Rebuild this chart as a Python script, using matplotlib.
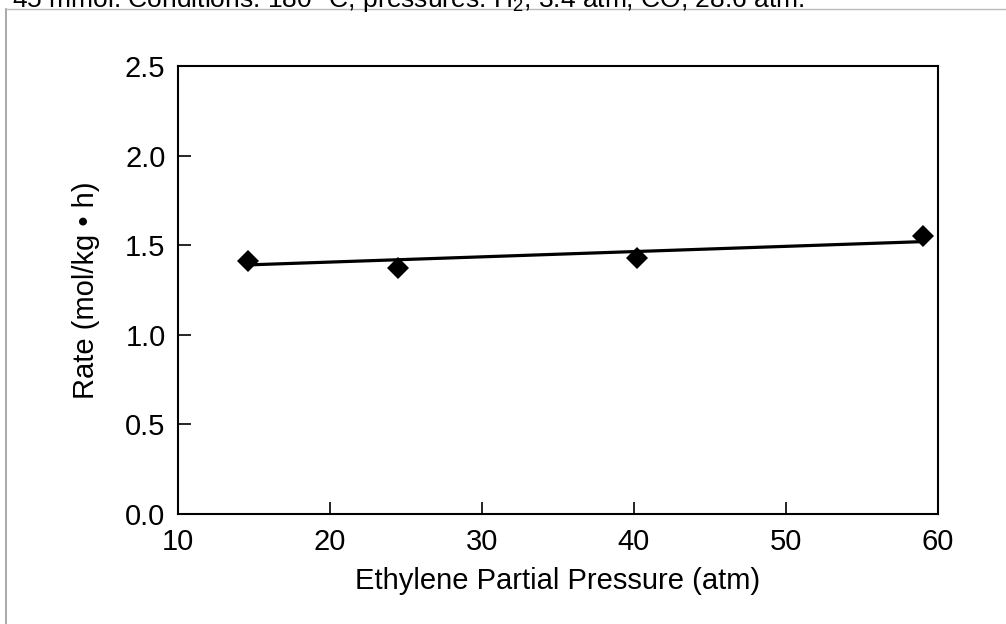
import numpy as np
import matplotlib
matplotlib.use('Agg')
import matplotlib.pyplot as plt
from matplotlib.lines import Line2D

plt.rcParams['font.family'] = ['Liberation Sans', 'DejaVu Sans']
plt.rcParams['mathtext.fontset'] = 'custom'
plt.rcParams['mathtext.rm'] = 'Liberation Sans'
plt.rcParams['mathtext.it'] = 'Liberation Sans'

pressure = [14.6, 24.5, 40.2, 59.0]
rate = [1.41, 1.37, 1.43, 1.55]

# straight line drawn through the data
fit_x = [14.6, 59.0]
fit_y = [1.39, 1.52]

x_ticks = [10, 20, 30, 40, 50, 60]
y_ticks = [0.0, 0.5, 1.0, 1.5, 2.0, 2.5]

header = "45 mmol. Conditions: 180 \u00b0C, pressures: H$_2$, 3.4 atm; CO, 28.6 atm."

W, H = 1006, 624
fig = plt.figure(figsize=(W / 100, H / 100), dpi=100)

# gray frame of the cropped figure box (only top and left edges show)
fig.add_artist(Line2D([6 / W, 6 / W], [0, 1 - 9 / H], transform=fig.transFigure,
                      color='#999999', lw=1.2))
fig.add_artist(Line2D([6 / W, 1], [1 - 9 / H, 1 - 9 / H], transform=fig.transFigure,
                      color='#bbbbbb', lw=1.0))

# caption text from above, cut off by the crop
fig.text(12 / W, 1 - 7 / H, header, fontsize=19, va='baseline', ha='left')

left, right, top, bottom = 178, 938, 66, 514
ax = fig.add_axes([left / W, 1 - bottom / H, (right - left) / W, (bottom - top) / H])

ax.plot(fit_x, fit_y, color='black', lw=2.3, solid_capstyle='butt')
ax.plot(pressure, rate, linestyle='none', marker='D', markersize=11,
        color='black', markeredgewidth=0)

ax.set_xlim(10, 60)
ax.set_ylim(0, 2.5)
ax.set_xticks(x_ticks)
ax.set_yticks(y_ticks)
ax.set_yticklabels(['%.1f' % v for v in y_ticks])

ax.tick_params(direction='in', length=9, width=1.2, labelsize=21, colors='black')
ax.tick_params(axis='y', pad=9)
ax.tick_params(axis='x', pad=10)
for s in ax.spines.values():
    s.set_linewidth(1.5)

ax.set_xlabel('Ethylene Partial Pressure (atm)', fontsize=21, labelpad=8)
ax.set_ylabel('Rate (mol/kg \u2022 h)', fontsize=21, labelpad=18)

fig.savefig('out.png', dpi=100)
